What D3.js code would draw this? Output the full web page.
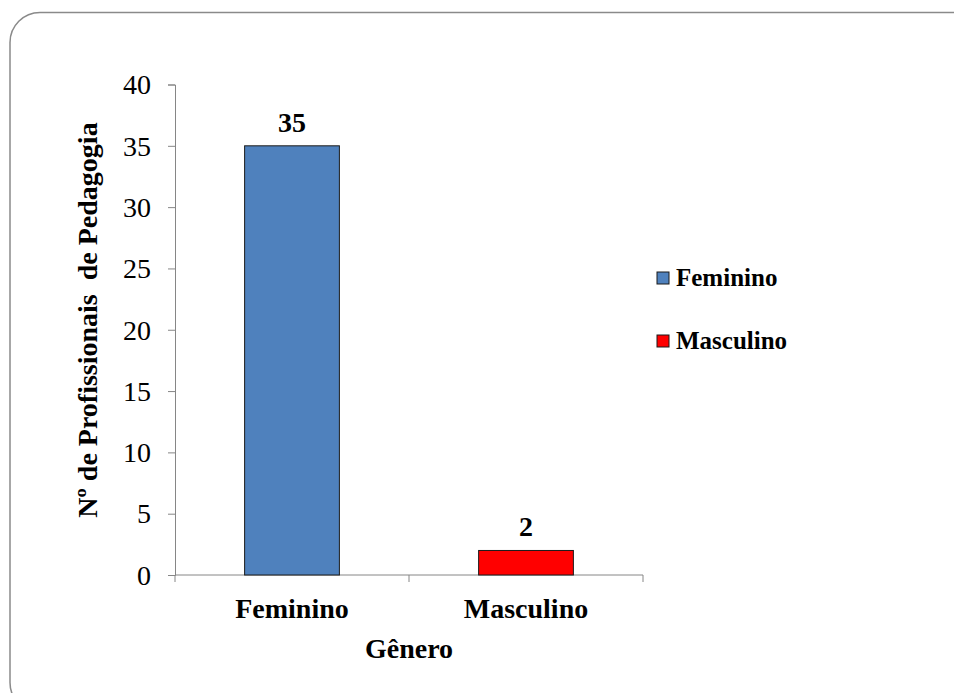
<!DOCTYPE html>
<html>
<head>
<meta charset="utf-8">
<script src="https://cdn.jsdelivr.net/npm/d3@7"></script>
<style>
  html, body { margin: 0; padding: 0; background: #fff; }
  svg { display: block; }
  text { font-family: "Liberation Serif", "Times New Roman", serif; fill: #000; }
</style>
</head>
<body>
<svg id="chart" width="954" height="693"></svg>
<script>
// Profissionais de Pedagogia por gênero
const categories = ["Feminino", "Masculino"];
const values = [35, 2];
const colors = ["#4F81BD", "#FF0000"];
const yTicks = [0, 5, 10, 15, 20, 25, 30, 35, 40];
const yTitle = "Nº de Profissionais  de Pedagogia";
const xTitle = "Gênero";

const svg = d3.select("#chart");

// rounded frame around the slide
svg.append("rect")
  .attr("x", 10).attr("y", 12.5)
  .attr("width", 1000).attr("height", 700)
  .attr("rx", 30).attr("ry", 30)
  .attr("fill", "none")
  .attr("stroke", "#8a8a8a")
  .attr("stroke-width", 1.5);

const plot = { left: 175, right: 643, top: 84.5, bottom: 575 };

const x = d3.scaleBand()
  .domain(categories)
  .range([plot.left, plot.right])
  .paddingInner(0.595)
  .paddingOuter(0.2975);

const y = d3.scaleLinear()
  .domain([0, 40])
  .range([plot.bottom, plot.top]);

// y axis
const yAxis = svg.append("g")
  .attr("transform", `translate(${plot.left},0)`)
  .call(d3.axisLeft(y).tickValues(yTicks).tickSize(7).tickPadding(17));
yAxis.select(".domain").attr("stroke", "#868686");
yAxis.selectAll(".tick line").attr("stroke", "#868686");
yAxis.selectAll(".tick text")
  .attr("font-size", 28)
  .attr("dy", "0.33em")
  .attr("font-family", "Liberation Serif, Times New Roman, serif")
  .attr("fill", "#000");

// x axis (ticks at category boundaries)
const xAxisG = svg.append("g")
  .attr("transform", `translate(0,${plot.bottom})`);
xAxisG.append("line")
  .attr("x1", plot.left).attr("x2", plot.right)
  .attr("stroke", "#868686");
const boundaries = [plot.left, plot.left + (plot.right - plot.left) / 2, plot.right];
xAxisG.selectAll("line.tick")
  .data(boundaries)
  .join("line")
  .attr("class", "tick")
  .attr("x1", d => d).attr("x2", d => d)
  .attr("y1", 0).attr("y2", 7)
  .attr("stroke", "#868686");

xAxisG.selectAll("text.cat")
  .data(categories)
  .join("text")
  .attr("class", "cat")
  .attr("x", d => x(d) + x.bandwidth() / 2)
  .attr("y", 43)
  .attr("text-anchor", "middle")
  .attr("font-size", 28)
  .attr("font-weight", "bold")
  .text(d => d);

// bars
svg.selectAll("rect.bar")
  .data(values)
  .join("rect")
  .attr("class", "bar")
  .attr("x", (d, i) => x(categories[i]))
  .attr("y", d => y(d))
  .attr("width", x.bandwidth())
  .attr("height", d => y(0) - y(d))
  .attr("fill", (d, i) => colors[i])
  .attr("stroke", "#1a1a1a")
  .attr("stroke-width", 1);

// value labels
svg.selectAll("text.val")
  .data(values)
  .join("text")
  .attr("class", "val")
  .attr("x", (d, i) => x(categories[i]) + x.bandwidth() / 2)
  .attr("y", d => y(d) - 14)
  .attr("text-anchor", "middle")
  .attr("font-size", 28)
  .attr("font-weight", "bold")
  .text(d => d);

// axis titles
svg.append("text")
  .attr("transform", `translate(97,320) rotate(-90)`)
  .attr("text-anchor", "middle")
  .attr("font-size", 28)
  .attr("font-weight", "bold")
  .style("white-space", "pre")
  .text(yTitle);

svg.append("text")
  .attr("x", (plot.left + plot.right) / 2)
  .attr("y", 658)
  .attr("text-anchor", "middle")
  .attr("font-size", 28)
  .attr("font-weight", "bold")
  .text(xTitle);

// legend
const legend = svg.append("g").attr("transform", "translate(657,272)");
const item = legend.selectAll("g")
  .data(categories)
  .join("g")
  .attr("transform", (d, i) => `translate(0,${i * 63})`);
item.append("rect")
  .attr("width", 12).attr("height", 12)
  .attr("fill", (d, i) => colors[i])
  .attr("stroke", "#1a1a1a")
  .attr("stroke-width", 1);
item.append("text")
  .attr("x", 19)
  .attr("y", 14)
  .attr("font-size", 25)
  .attr("font-weight", "bold")
  .text(d => d);
</script>
</body>
</html>
